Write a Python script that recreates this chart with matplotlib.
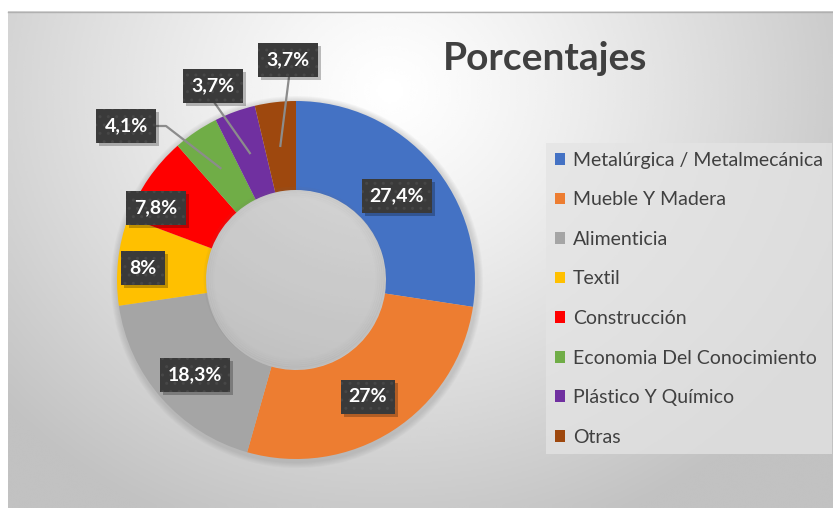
import matplotlib.pyplot as plt
import numpy as np

sectores = ["Metalúrgica / Metalmecánica", "Mueble Y Madera", "Alimenticia", "Textil",
            "Construcción", "Economia Del Conocimiento", "Plástico Y Químico", "Otras"]
porcentajes = [27.4, 27, 18.3, 8, 7.8, 4.1, 3.7, 3.7]
etiquetas = ["27,4%", "27%", "18,3%", "8%", "7,8%", "4,1%", "3,7%", "3,7%"]
colores = ["#4472C4", "#ED7D31", "#A5A5A5", "#FFC000", "#FF0000", "#70AD47", "#7030A0", "#9E480E"]

W, H = 833, 508
FONT = "Lato"

def P(x, y):
    # pixel coords (top-left origin) -> data coords
    return x, H - y

fig = plt.figure(figsize=(W / 100, H / 100), dpi=100)
ax = fig.add_axes([0, 0, 1, 1])

# fondo con degradado radial
xs = np.linspace(8, W, 400)
ys = np.linspace(11, H, 250)
X, Y = np.meshgrid(xs, ys)
d = np.sqrt((X - 390) ** 2 + ((Y - 90) * 1.1) ** 2) / 520
grad = 1.0 - 0.24 * np.clip(d, 0, 1) ** 1.2
ax.imshow(grad, cmap="gray", vmin=0, vmax=1, extent=(8, W, 0, H - 11),
          origin="upper", zorder=0, interpolation="bicubic")
ax.plot([8, W], [H - 11.5, H - 11.5], color="#b0b0b0", lw=1, zorder=1)

cx, cy = P(296, 280)
R = 179

# sombra de la dona
for k in range(6):
    ax.add_patch(plt.Circle((cx + 1, cy - 2), R + 7 - k, color="#808080", alpha=0.05, lw=0, zorder=1))

wedges, _ = ax.pie(porcentajes, colors=colores, startangle=90, counterclock=False,
                   center=(cx, cy), radius=R, wedgeprops=dict(width=R - 90, lw=0),
                   frame=True)
for w in wedges:
    w.set_zorder(3)
ax.set_xlim(0, W)
ax.set_ylim(0, H)
ax.set_aspect("equal")
ax.axis("off")

# agujero central: sombra suave en el borde
for k in range(5):
    ax.add_patch(plt.Circle((cx - 1, cy + 2), 90 - k * 2, fill=False, ec="#707070",
                            lw=2, alpha=0.07 * (5 - k) / 5, zorder=3.5))

# angulos medios de cada sector
tot = sum(porcentajes)
acum = np.cumsum([0] + porcentajes[:-1])
medios = [np.deg2rad(90 - 360 * (a + p / 2) / tot) for a, p in zip(acum, porcentajes)]

pos_etq = [(397, 196), (368, 397), (195, 375), (143, 268), (156, 208),
           (126, 126), (213, 86), (288, 60)]
guia = {5: [(157, 126), (166, 126)], 6: [(214, 102)], 7: [(289, 77)]}

cajas = []
for i, txt in enumerate(etiquetas):
    x, y = P(*pos_etq[i])
    if i in guia:
        r = 135
        ex, ey = cx + r * np.cos(medios[i]), cy + r * np.sin(medios[i])
        pts = [P(*p) for p in guia[i]] + [(ex, ey)]
        ax.plot([p[0] for p in pts], [p[1] for p in pts], color="#8c8c8c", lw=1.6, zorder=4)
    t = ax.text(x, y, txt, color="white", fontsize=14, fontweight="bold", family=FONT,
                ha="center", va="center", zorder=6,
                bbox=dict(boxstyle="square,pad=0.42", fc="#3a3a3a", ec="#474747", lw=0, hatch=".."))
    cajas.append(t)

ax.text(*P(545, 58), "Porcentajes", fontsize=28, fontweight="bold", family=FONT,
        color="#404040", ha="center", va="center", zorder=6)

leg = ax.legend(wedges, sectores, loc="upper left", bbox_to_anchor=(546 / W, 1 - 143 / H),
                bbox_transform=fig.transFigure, frameon=True, fancybox=False,
                prop=dict(family=FONT, size=14), labelcolor="#404040",
                handlelength=0.55, handleheight=0.55, handletextpad=0.4,
                labelspacing=1.16, borderpad=0.45, borderaxespad=0)
fr = leg.get_frame()
fr.set_facecolor("#e4e4e4")
fr.set_alpha(0.75)
fr.set_edgecolor("none")
leg.set_zorder(6)

# sombras de las cajas de etiquetas
fig.canvas.draw()
inv = ax.transData.inverted()
for t in cajas:
    bb = t.get_bbox_patch().get_window_extent()
    (x0, y0), (x1, y1) = inv.transform([(bb.x0, bb.y0), (bb.x1, bb.y1)])
    ax.add_patch(plt.Rectangle((x0 + 3, y0 - 3), x1 - x0, y1 - y0, fc="#000000",
                               alpha=0.25, lw=0, zorder=5))

fig.savefig("out.png", dpi=100, facecolor="white")
